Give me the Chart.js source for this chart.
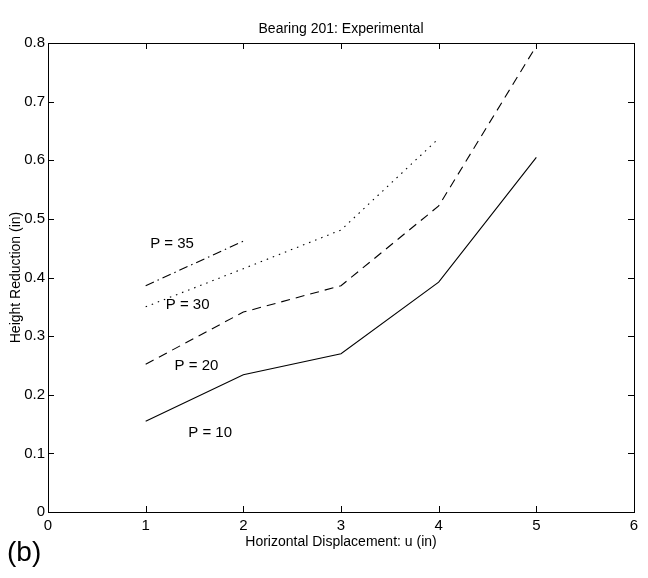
<!DOCTYPE html>
<html>
<head>
<meta charset="utf-8">
<script src="https://cdn.jsdelivr.net/npm/chart.js@4.4.1/dist/chart.umd.min.js"></script>
<style>
  body { margin: 0; background: #fff; }
  #wrap { width: 648px; height: 578px; }
</style>
</head>
<body>
<div id="wrap"><canvas id="chart" width="648" height="578"></canvas></div>
<script>
// Data
const u10 = [1, 2, 3, 4, 5];
const h10 = [0.155, 0.234, 0.270, 0.392, 0.605];
const u20 = [1, 2, 3, 4, 5];
const h20 = [0.252, 0.341, 0.386, 0.522, 0.795];
const u30 = [1, 2, 3, 4];
const h30 = [0.350, 0.415, 0.481, 0.637];
const u35 = [1, 2];
const h35 = [0.386, 0.462];

// curve labels (placed in data units)
const labelText = ['P = 35', 'P = 30', 'P = 20', 'P = 10'];
const labelU = [1.27, 1.43, 1.52, 1.66];
const labelH = [0.457, 0.353, 0.249, 0.135];

const xTicks = [0, 1, 2, 3, 4, 5, 6];
const yTicks = [0, 0.1, 0.2, 0.3, 0.4, 0.5, 0.6, 0.7, 0.8];

const FONT = '"Liberation Sans", Arial, Helvetica, sans-serif';

function pts(xs, ys) {
  return xs.map((x, i) => ({ x: x, y: ys[i] }));
}

function series(label, xs, ys, dash) {
  return {
    label: label,
    data: pts(xs, ys),
    showLine: true,
    borderColor: '#000',
    borderWidth: 1.1,
    borderDash: dash,
    pointRadius: 0,
    fill: false,
  };
}

// frame, inward ticks, title, curve labels, panel letter
const decor = {
  id: 'decor',
  afterDatasetsDraw(chart) {
    const { ctx, chartArea: a, scales } = chart;
    const xs = scales.x, ys = scales.y;
    ctx.save();
    ctx.strokeStyle = '#000';
    ctx.lineWidth = 1;
    ctx.strokeRect(a.left + 0.5, a.top + 0.5, a.right - a.left, a.bottom - a.top);

    const tl = 6;
    ctx.beginPath();
    xTicks.forEach(v => {
      const px = Math.round(xs.getPixelForValue(v)) + 0.5;
      ctx.moveTo(px, a.bottom); ctx.lineTo(px, a.bottom - tl);
      ctx.moveTo(px, a.top); ctx.lineTo(px, a.top + tl);
    });
    yTicks.forEach(v => {
      const py = Math.round(ys.getPixelForValue(v)) + 0.5;
      ctx.moveTo(a.left, py); ctx.lineTo(a.left + tl, py);
      ctx.moveTo(a.right, py); ctx.lineTo(a.right - tl, py);
    });
    ctx.stroke();

    ctx.fillStyle = '#000';
    ctx.textAlign = 'center';
    ctx.textBaseline = 'middle';
    ctx.font = '14px ' + FONT;
    ctx.fillText('Bearing 201: Experimental', (a.left + a.right) / 2, 29);

    ctx.font = '15px ' + FONT;
    labelText.forEach((t, i) => {
      ctx.fillText(t, xs.getPixelForValue(labelU[i]), ys.getPixelForValue(labelH[i]));
    });

    ctx.textAlign = 'left';
    ctx.font = '28px ' + FONT;
    ctx.fillText('(b)', 7, 553);
    ctx.restore();
  }
};

new Chart(document.getElementById('chart'), {
  type: 'scatter',
  data: {
    datasets: [
      series('P = 10', u10, h10, []),
      series('P = 20', u20, h20, [9, 6]),
      series('P = 30', u30, h30, [1.5, 5]),
      series('P = 35', u35, h35, [9, 4, 1.5, 4]),
    ]
  },
  options: {
    responsive: false,
    animation: false,
    layout: { padding: { top: 43, right: 14, left: 0, bottom: 0 } },
    plugins: {
      legend: { display: false },
      tooltip: { enabled: false },
    },
    scales: {
      x: {
        type: 'linear',
        min: 0, max: 6,
        grid: { display: false, drawTicks: false },
        border: { display: false },
        afterBuildTicks: s => { s.ticks = xTicks.map(v => ({ value: v })); },
        ticks: { padding: 5, color: '#000', font: { size: 15, family: FONT }, maxRotation: 0,
                 callback: v => String(v) },
        title: { display: true, text: 'Horizontal Displacement: u (in)', color: '#000',
                 font: { size: 14, family: FONT }, padding: { top: 0, bottom: 27 } },
        afterFit: s => { s.height = 66; },
      },
      y: {
        type: 'linear',
        min: 0, max: 0.8,
        grid: { display: false, drawTicks: false },
        border: { display: false },
        afterBuildTicks: s => { s.ticks = yTicks.map(v => ({ value: v })); },
        ticks: { padding: 3, color: '#000', font: { size: 15, family: FONT },
                 callback: v => (v === 0 ? '0' : v.toFixed(1)) },
        title: { display: true, text: 'Height Reduction (in)', color: '#000',
                 font: { size: 14, family: FONT }, padding: { top: 8, bottom: 0 } },
        afterFit: s => { s.width = 48; },
      }
    }
  },
  plugins: [decor]
});
</script>
</body>
</html>
